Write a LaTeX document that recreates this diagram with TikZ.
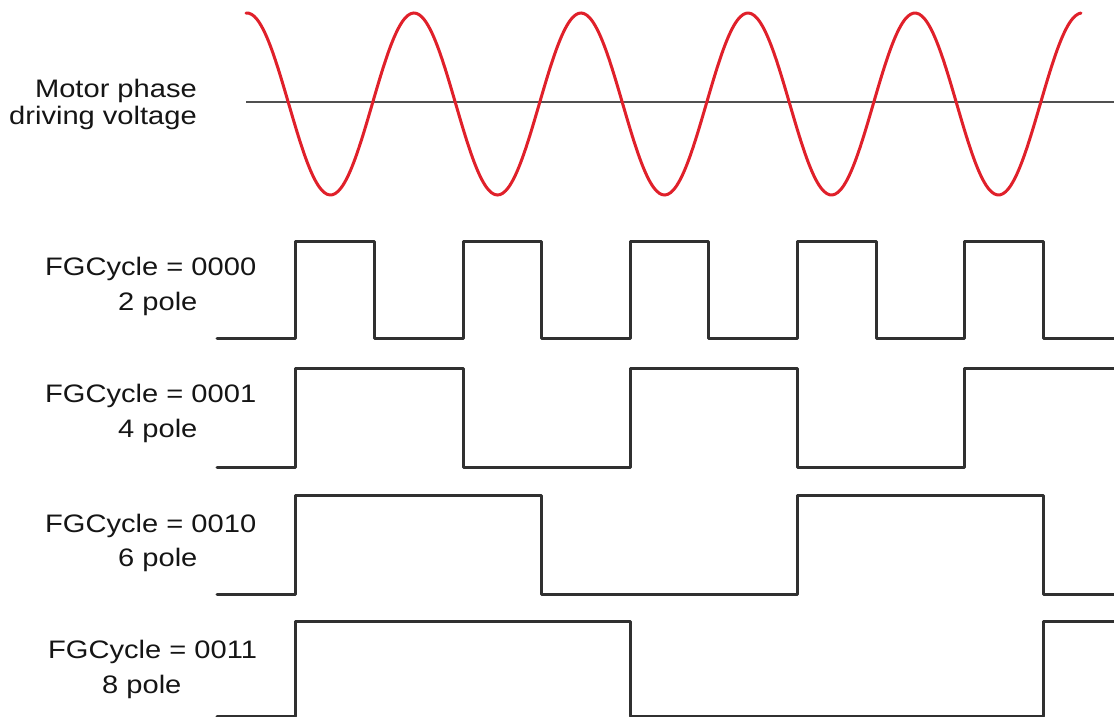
\documentclass[tikz,border=0pt]{standalone}
\usepackage{fontspec}
\setmainfont{Liberation Sans}[FakeStretch=1.15]
\definecolor{sinered}{HTML}{E0202A}
\definecolor{wavegray}{HTML}{303030}
\definecolor{axisgray}{HTML}{505050}
\definecolor{labelc}{HTML}{151515}
\begin{document}
\begin{tikzpicture}[x=1bp,y=-1bp,
  lbl/.style={inner sep=0pt,text=labelc,font=\fontsize{25.3bp}{30bp}\selectfont},
  wave/.style={draw=wavegray,line width=3bp,line join=round,line cap=round},
  sine/.style={draw=sinered,line width=3bp,line cap=round},
  midline/.style={draw=axisgray,line width=1.4bp}]
\useasboundingbox (0,0) rectangle (1114,717);
\fill[white] (0,0) rectangle (1114,717);
% labels
\node[lbl,anchor=base east] (mp) at (197,98) {Motor phase};
\node[lbl,anchor=base east] (dv) at (197,125) {driving voltage};
\node[lbl,anchor=base west] (fg0) at (45,275) {FGCycle = 0000};
\node[lbl,anchor=base west] (p0) at (118,310) {2 pole};
\node[lbl,anchor=base west] (fg1) at (45,402) {FGCycle = 0001};
\node[lbl,anchor=base west] (p1) at (118,437) {4 pole};
\node[lbl,anchor=base west] (fg2) at (45,532) {FGCycle = 0010};
\node[lbl,anchor=base west] (p2) at (118,566) {6 pole};
\node[lbl,anchor=base west] (fg3) at (48,658) {FGCycle = 0011};
\node[lbl,anchor=base west] (p3) at (102,693) {8 pole};
% motor phase voltage
\draw[midline] (246,102) -- (1114,102);
\draw[sine] plot[domain=246:1081,samples=300,smooth] (\x,{104-91*cos((\x-247)*2.15569)});
% FGCycle = 0000
\draw[wave] (217,338) -- (295,338) -- (295,241) -- (374,241) -- (374,338) -- (463,338) -- (463,241) -- (541,241) -- (541,338) -- (630,338) -- (630,241) -- (708,241) -- (708,338) -- (797,338) -- (797,241) -- (876,241) -- (876,338) -- (964,338) -- (964,241) -- (1043,241) -- (1043,338) -- (1114,338);
% FGCycle = 0001
\draw[wave] (217,467) -- (295,467) -- (295,368) -- (463,368) -- (463,467) -- (630,467) -- (630,368) -- (797,368) -- (797,467) -- (964,467) -- (964,368) -- (1114,368);
% FGCycle = 0010
\draw[wave] (217,594) -- (295,594) -- (295,495) -- (541,495) -- (541,594) -- (797,594) -- (797,495) -- (1043,495) -- (1043,594) -- (1114,594);
% FGCycle = 0011
\draw[wave] (217,716) -- (295,716) -- (295,621) -- (630,621) -- (630,716) -- (1043,716) -- (1043,621) -- (1114,621);
\end{tikzpicture}
\end{document}
